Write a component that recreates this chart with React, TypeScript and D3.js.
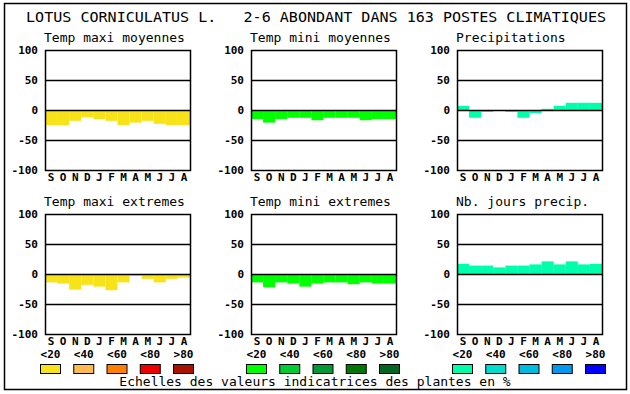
import React from 'react';
import * as d3 from 'd3';

const months = ['S', 'O', 'N', 'D', 'J', 'F', 'M', 'A', 'M', 'J', 'J', 'A'];

const tempMaxiMoy = [-25, -25, -18, -12, -15, -18, -25, -21, -18, -23, -25, -25];
const tempMiniMoy = [-15, -21, -15, -13, -13, -17, -13, -13, -13, -17, -15, -15];
const precipitations = [7, -13, -3, 0, -3, -13, -5, 2, 7, 12, 12, 12];
const tempMaxiExt = [-14, -16, -26, -18, -21, -27, -14, -3, -8, -14, -8, -6];
const tempMiniExt = [-14, -22, -14, -16, -21, -16, -14, -14, -17, -14, -16, -16];
const nbJoursPrecip = [17, 14, 14, 11, 14, 14, 16, 21, 16, 21, 16, 17];

const panelTitles = [
  'Temp maxi moyennes', 'Temp mini moyennes', 'Precipitations',
  'Temp maxi extremes', 'Temp mini extremes', 'Nb. jours precip.',
];
const panelValues = [tempMaxiMoy, tempMiniMoy, precipitations, tempMaxiExt, tempMiniExt, nbJoursPrecip];

const yTicks = [100, 50, 0, -50, -100];
const legendLabels = ['<20', '<40', '<60', '<80', '>80'];
const legendColors = [
  ['#f8e21a', '#ffbb50', '#ff7f00', '#ee0000', '#aa1100'],
  ['#00ff00', '#00cc33', '#009933', '#007700', '#006622'],
  ['#00ffaa', '#00ddcc', '#00bbdd', '#0099ee', '#0000ff'],
];

const title = 'LOTUS CORNICULATUS L.   2-6 ABONDANT DANS 163 POSTES CLIMATIQUES';
const caption = 'Echelles des valeurs indicatrices des plantes en %';

const mono = '"DejaVu Sans Mono", "Liberation Mono", monospace';

const W = 630;
const H = 394;
const panelW = 145;
const panelH = 120;
const colStep = 206;

const Panel: React.FC<{ idx: number }> = ({ idx }) => {
  const col = idx % 3;
  const row = Math.floor(idx / 3);
  const x0 = 45 + col * colStep;
  const y0 = row === 0 ? 50 : 214;
  const color = legendColors[col][0];

  const x = d3.scaleBand<number>().domain(d3.range(12)).range([x0, x0 + panelW]).padding(0);
  const y = d3.scaleLinear().domain([-100, 100]).range([y0 + panelH, y0]);
  const vals = panelValues[idx];

  return (
    <g>
      <text x={x0 - 1} y={y0 - 8} fontFamily={mono} fontSize={13}>{panelTitles[idx]}</text>
      {vals.map((v, i) => (
        <rect key={i} x={x(i)!} width={x.bandwidth()} y={y(Math.max(0, v))}
          height={Math.abs(y(v) - y(0))} fill={color} />
      ))}
      {[50, 0, -50].map(t => (
        <line key={t} x1={x0} x2={x0 + panelW} y1={y(t) + 0.5} y2={y(t) + 0.5} stroke="#000" strokeWidth={1.5} />
      ))}
      <rect x={x0 + 0.5} y={y0 + 0.5} width={panelW} height={panelH} fill="none" stroke="#000" strokeWidth={1.5} />
      {yTicks.map(t => (
        <text key={t} x={x0 - 7} y={y(t) + 4} textAnchor="end" fontFamily={mono} fontWeight="bold" fontSize={11}>{t}</text>
      ))}
      {months.map((m, i) => (
        <text key={i} x={x(i)! + x.bandwidth() / 2} y={y0 + panelH + 11} textAnchor="middle"
          fontFamily={mono} fontWeight="bold" fontSize={11}>{m}</text>
      ))}
    </g>
  );
};

export default function App() {
  return (
    <svg width={W} height={H} style={{ position: 'absolute', left: 0, top: 0, background: '#fff' }}>
      <rect x={4.5} y={3.5} width={622} height={386} fill="#fff" stroke="#000" strokeWidth={1.5} />
      <text x={26} y={22} fontFamily={mono} fontSize={14} textLength={580} lengthAdjust="spacingAndGlyphs"
        style={{ whiteSpace: 'pre' }}>{title}</text>
      {d3.range(6).map(i => <Panel key={i} idx={i} />)}
      {legendColors.map((group, g) => (
        <g key={g}>
          {group.map((c, i) => {
            const lx = 40 + g * colStep + i * 33.25;
            return (
              <g key={i}>
                <text x={lx + 10.5} y={358} textAnchor="middle" fontFamily={mono} fontWeight="bold" fontSize={11}>{legendLabels[i]}</text>
                <rect x={lx + 0.5} y={364.5} width={20} height={9} fill={c} stroke="#000" strokeWidth={1} />
              </g>
            );
          })}
        </g>
      ))}
      <text x={315} y={386} textAnchor="middle" fontFamily={mono} fontSize={13}>{caption}</text>
    </svg>
  );
}
